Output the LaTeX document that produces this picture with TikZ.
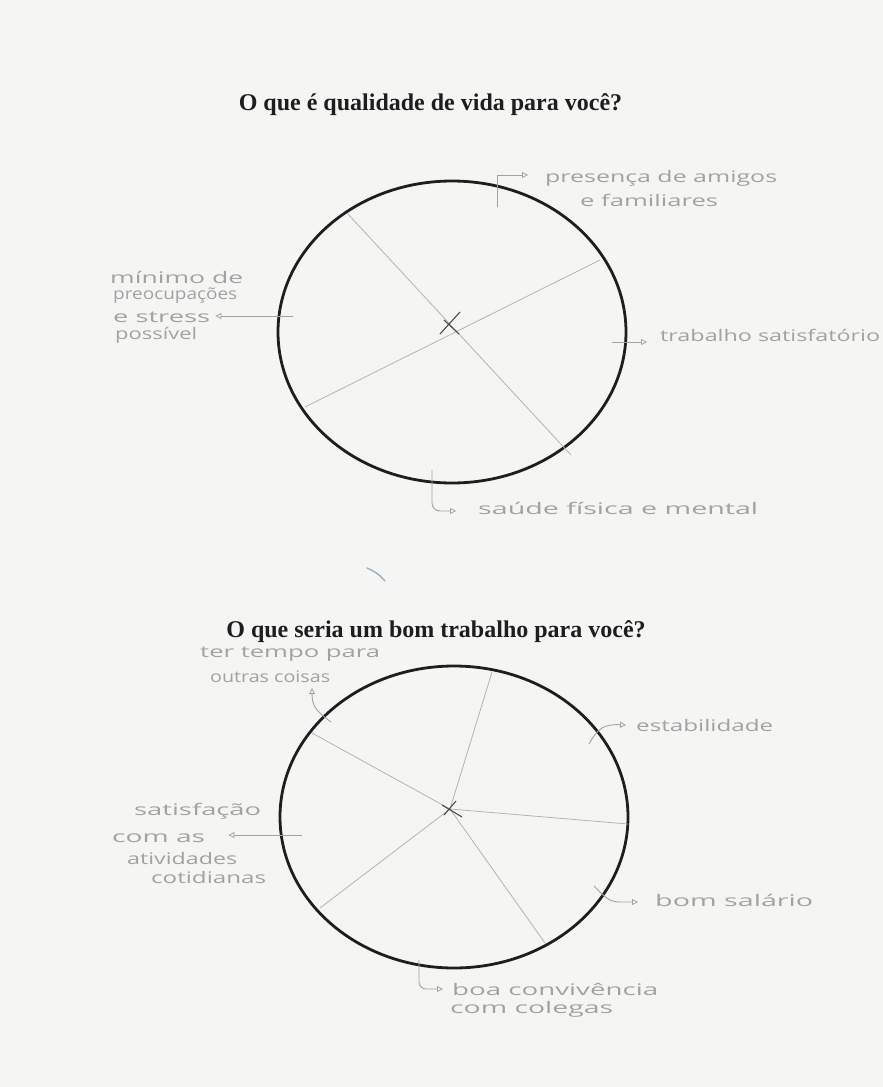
\documentclass[tikz,border=0pt]{standalone}
\usepackage{fontspec}
\usepackage{graphicx}
\setmainfont{Liberation Serif}
\newfontfamily\hand{Open Sans}
\usetikzlibrary{arrows.meta,shapes.geometric}
\definecolor{paper}{HTML}{F5F6F4}
\definecolor{pencil}{HTML}{A2A2A2}
\definecolor{ink}{HTML}{1E1E1E}
\definecolor{ray}{HTML}{B4B4B4}
\definecolor{smudge}{HTML}{9BB0C8}
\newcommand{\hw}[2]{\resizebox{#1pt}{\height}{#2}}
\tikzset{
  titletext/.style={font=\fontsize{24}{28}\selectfont\bfseries, text=ink, inner sep=0pt},
  hlabel/.style={font=\hand\fontsize{16}{19}\selectfont, text=pencil, anchor=west, inner sep=0pt},
  ring/.style={ellipse, draw=ink, line width=2.8pt, minimum width=348pt, minimum height=302pt, inner sep=0pt, outer sep=0pt},
  spoke/.style={draw=ray, line width=0.8pt},
  crossmark/.style={draw=ink!80, line width=1.1pt},
  lead/.style={draw=pencil, line width=0.9pt},
  tip/.style={-{Triangle[open, length=6pt, width=6pt, line width=0.8pt]}}
}
\begin{document}
\begin{tikzpicture}[x=1pt,y=-1pt]
\fill[paper] (0,0) rectangle (883,1087);
\useasboundingbox (0,0) rectangle (883,1087);

% ---------- first question ----------
\node[titletext] (t1) at (430.5,105) {O que é qualidade de vida para você?};
\node[ring] (c1) at (452,332) {};
\coordinate (a1) at (347,213);
\coordinate (a2) at (571,455);
\coordinate (b1) at (600,260);
\coordinate (b2) at (305,407);
\draw[spoke] (a1) -- (a2);
\draw[spoke] (b1) -- (b2);
\coordinate (x1a) at (440,334);
\coordinate (x1b) at (460,312);
\coordinate (x1c) at (444,320);
\coordinate (x1d) at (459,334);
\draw[crossmark] (x1a) -- (x1b);
\draw[crossmark] (x1c) -- (x1d);

\node[hlabel] (l1a) at (545,178) {\hw{232}{presença de amigos}};
\node[hlabel] (l1b) at (580,200) {\hw{138}{e familiares}};
\coordinate (k1) at (497,207);
\draw[lead,tip] (k1) -- (497,175) -- ([xshift=-17pt,yshift=3pt]l1a.west);

\node[hlabel] (l2a) at (110,277) {\hw{133}{mínimo de}};
\node[hlabel] (l2b) at (113,296) {\hw{124}{preocupações}};
\node[hlabel] (l2c) at (113,317) {\hw{97}{e stress}};
\node[hlabel] (l2d) at (115,335) {\hw{82}{possível}};
\coordinate (k2) at (293,316);
\draw[lead,tip] (k2) -- ([xshift=5pt,yshift=1pt]l2c.east);

\node[hlabel] (l3) at (660,335) {\hw{220}{trabalho satisfatório}};
\coordinate (k3) at (612,342);
\draw[lead,tip] (k3) -- ([xshift=-13pt,yshift=-7pt]l3.west);

\node[hlabel] (l4) at (478,508) {\hw{280}{saúde física e mental}};
\coordinate (k4) at (432,470);
\draw[lead,tip] (k4) -- (432,503) to[out=-90,in=180] (440,511) -- ([xshift=-22pt,yshift=-3pt]l4.west);

% smudge
\draw[smudge, line width=1.4pt, line cap=round] (367,568) .. controls (374,571) and (379,574) .. (385,581);

% ---------- second question ----------
\node[titletext] (t2) at (436,632) {O que seria um bom trabalho para você?};
\node[ring] (c2) at (454,817) {};
\coordinate (o2) at (450,809);
\coordinate (r1) at (492,672);
\coordinate (r2) at (628,824);
\coordinate (r3) at (545,943);
\coordinate (r4) at (320,908);
\coordinate (r5) at (312,733);
\foreach \r in {r1,r2,r3,r4,r5} \draw[spoke] (o2) -- (\r);
\coordinate (x2a) at (444,815);
\coordinate (x2b) at (456,801);
\coordinate (x2c) at (442,805);
\coordinate (x2d) at (462,817);
\draw[crossmark] (x2a) -- (x2b);
\draw[crossmark] (x2c) -- (x2d);

\node[hlabel] (l5a) at (200,654) {\hw{180}{ter tempo para}};
\node[hlabel] (l5b) at (210,677) {\hw{120}{outras coisas}};
\coordinate (k5) at (331,722);
\draw[lead,tip] (k5) .. controls (318,712) and (312,708) .. ([xshift=102pt,yshift=-11pt]l5b.west);

\node[hlabel] (l6) at (636,725) {\hw{137}{estabilidade}};
\coordinate (k6) at (589,744);
\draw[lead,tip] (k6) .. controls (598,728) and (604,724) .. ([xshift=-10pt]l6.west);

\node[hlabel] (l7a) at (134,811) {\hw{127}{satisfação}};
\node[hlabel] (l7b) at (112,838) {\hw{93}{com as}};
\node[hlabel] (l7c) at (127,858) {\hw{110}{atividades}};
\node[hlabel] (l7d) at (151,877) {\hw{115}{cotidianas}};
\coordinate (k7) at (302,835);
\draw[lead,tip] (k7) -- ([xshift=23pt,yshift=3pt]l7b.east);

\node[hlabel] (l8) at (655,900) {\hw{158}{bom salário}};
\coordinate (k8) at (594,886);
\draw[lead,tip] (k8) .. controls (603,895) and (608,902) .. (620,902) -- ([xshift=-17pt,yshift=-2pt]l8.west);

\node[hlabel] (l9a) at (452,989) {\hw{206}{boa convivência}};
\node[hlabel] (l9b) at (450,1009) {\hw{163}{com colegas}};
\coordinate (k9) at (419,960);
\draw[lead,tip] (k9) -- (419,982) to[out=-90,in=180] (426,989) -- ([xshift=-9pt]l9a.west);
\end{tikzpicture}
\end{document}
